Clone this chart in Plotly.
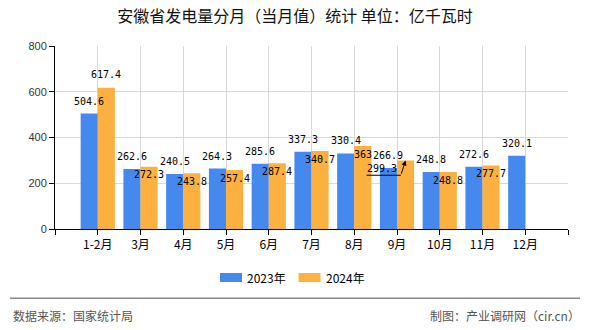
import plotly.graph_objects as go

# ---- data ----
categories = ["1-2月", "3月", "4月", "5月", "6月", "7月", "8月", "9月", "10月", "11月", "12月"]
values_2023 = [504.6, 262.6, 240.5, 264.3, 285.6, 337.3, 330.4, 266.9, 248.8, 272.6, 320.1]
values_2024 = [617.4, 272.3, 243.8, 257.4, 287.4, 340.7, 363, 299.3, 248.8, 277.7]
series_names = ["2023年", "2024年"]
title_text = "安徽省发电量分月（当月值）统计 单位：亿千瓦时"
source_text = "数据来源：国家统计局"
credit_text = "制图：产业调研网（cir.cn）"
y_ticks = [0, 200, 400, 600, 800]

# ---- style ----
W, H = 590, 330
ML, MR, MT, MB = 55, 22, 46, 101
PW, PH = W - ML - MR, H - MT - MB
BLUE = "#4589EE"
ORANGE = "#FBB040"
GRID = "#d9d9d9"
CJK = "Noto Sans CJK SC"
LABEL_FONT = dict(family="DejaVu Sans Mono", size=10, color="#000")


def px_x(p):
    return (p - ML) / PW


def px_y(p):
    return (H - MB - p) / PH


idx_23 = list(range(len(values_2023)))
idx_24 = list(range(len(values_2024)))

fig = go.Figure()
fig.add_trace(go.Bar(x=idx_23, y=values_2023, name=series_names[0],
                     marker=dict(color=BLUE, line=dict(width=0)), showlegend=False))
fig.add_trace(go.Bar(x=idx_24, y=values_2024, name=series_names[1],
                     marker=dict(color=ORANGE, line=dict(width=0)), showlegend=False))

annotations = []
shapes = []
BAR_OFF = 0.2
# blue labels above bars
for i, v in zip(idx_23, values_2023):
    annotations.append(dict(x=i - BAR_OFF, y=v, xref="x", yref="y", text=f"{v:g}",
                            showarrow=False, yshift=12.5, font=LABEL_FONT,
                            xanchor="center", yanchor="middle"))
# orange labels
for i, v in zip(idx_24, values_2024):
    if i == 0:
        annotations.append(dict(x=i + BAR_OFF, y=v, xref="x", yref="y", text=f"{v:g}",
                                showarrow=False, yshift=12.8, font=LABEL_FONT,
                                xanchor="center", yanchor="middle"))
    elif i == 7:
        # displaced label with leader line
        annotations.append(dict(x=i + BAR_OFF, y=v, xref="x", yref="y", text=f"{v:g}",
                                showarrow=False, xshift=-23.5, yshift=-7.7, font=LABEL_FONT,
                                xanchor="center", yanchor="middle"))
        annotations.append(dict(x=i + BAR_OFF, y=v, xref="x", yref="y", text="",
                                showarrow=True, ax=-4.7, ay=14.7, arrowhead=2, arrowsize=1,
                                arrowwidth=1, arrowcolor="#000", standoff=0))
        shapes.append(dict(type="line", xref="x", yref="y", xsizemode="pixel", ysizemode="pixel",
                           xanchor=i + BAR_OFF, yanchor=v, x0=-39, x1=-4.7, y0=-14.7, y1=-14.7,
                           line=dict(color="#000", width=1)))
    else:
        annotations.append(dict(x=i + BAR_OFF, y=v, xref="x", yref="y", text=f"{v:g}",
                                showarrow=False, yshift=-8.2, font=LABEL_FONT,
                                xanchor="center", yanchor="middle"))

# legend (manual)
leg_items = [(220, BLUE, series_names[0]), (298.5, ORANGE, series_names[1])]
for x0, col, name in leg_items:
    shapes.append(dict(type="rect", xref="paper", yref="paper",
                       x0=px_x(x0), x1=px_x(x0 + 22), y0=px_y(282), y1=px_y(273),
                       fillcolor=col, line=dict(width=0)))
    annotations.append(dict(x=px_x(x0 + 25), y=px_y(277.5), xref="paper", yref="paper",
                            text=name, showarrow=False, xanchor="left", yanchor="middle",
                            font=dict(family=CJK, size=12, color="#000")))

# footer
shapes.append(dict(type="line", xref="paper", yref="paper", x0=px_x(10), x1=px_x(580),
                   y0=px_y(298.3), y1=px_y(298.3), line=dict(color="#888", width=1.5)))
annotations.append(dict(x=px_x(11), y=px_y(315.5), xref="paper", yref="paper", text=source_text,
                        showarrow=False, xanchor="left", yanchor="middle",
                        font=dict(family=CJK, size=12, color="#555")))
annotations.append(dict(x=px_x(582), y=px_y(315.5), xref="paper", yref="paper", text=credit_text,
                        showarrow=False, xanchor="right", yanchor="middle",
                        font=dict(family=CJK, size=12, color="#555")))

fig.update_layout(
    width=W, height=H,
    margin=dict(l=ML, r=MR, t=MT, b=MB, pad=0),
    paper_bgcolor="white", plot_bgcolor="white",
    barmode="group", bargap=0.2, bargroupgap=0,
    title=dict(text=title_text, x=0.5, xref="container", xanchor="center",
               y=1 - 16.7 / H, yref="container", yanchor="middle",
               font=dict(family=CJK, size=16, color="#111")),
    xaxis=dict(range=[-1, 11], tickmode="array", tickvals=list(range(-1, 12)),
               ticktext=[""] + categories + [""], showgrid=True, gridcolor=GRID, gridwidth=1,
               showline=True, linecolor="#000", linewidth=1, ticks="outside", ticklen=5,
               tickcolor="#000", tickfont=dict(family=CJK, size=12, color="#000"),
               zeroline=False, fixedrange=True),
    yaxis=dict(range=[0, 800], tickmode="array", tickvals=y_ticks, showgrid=True,
               gridcolor=GRID, gridwidth=1, showline=True, linecolor="#000", linewidth=1,
               ticks="outside", ticklen=5, tickcolor="#000",
               tickfont=dict(family="Liberation Sans", size=11, color="#333"),
               zeroline=False, fixedrange=True),
    annotations=annotations,
    shapes=shapes,
    showlegend=False,
)

fig.write_html("out.html")
